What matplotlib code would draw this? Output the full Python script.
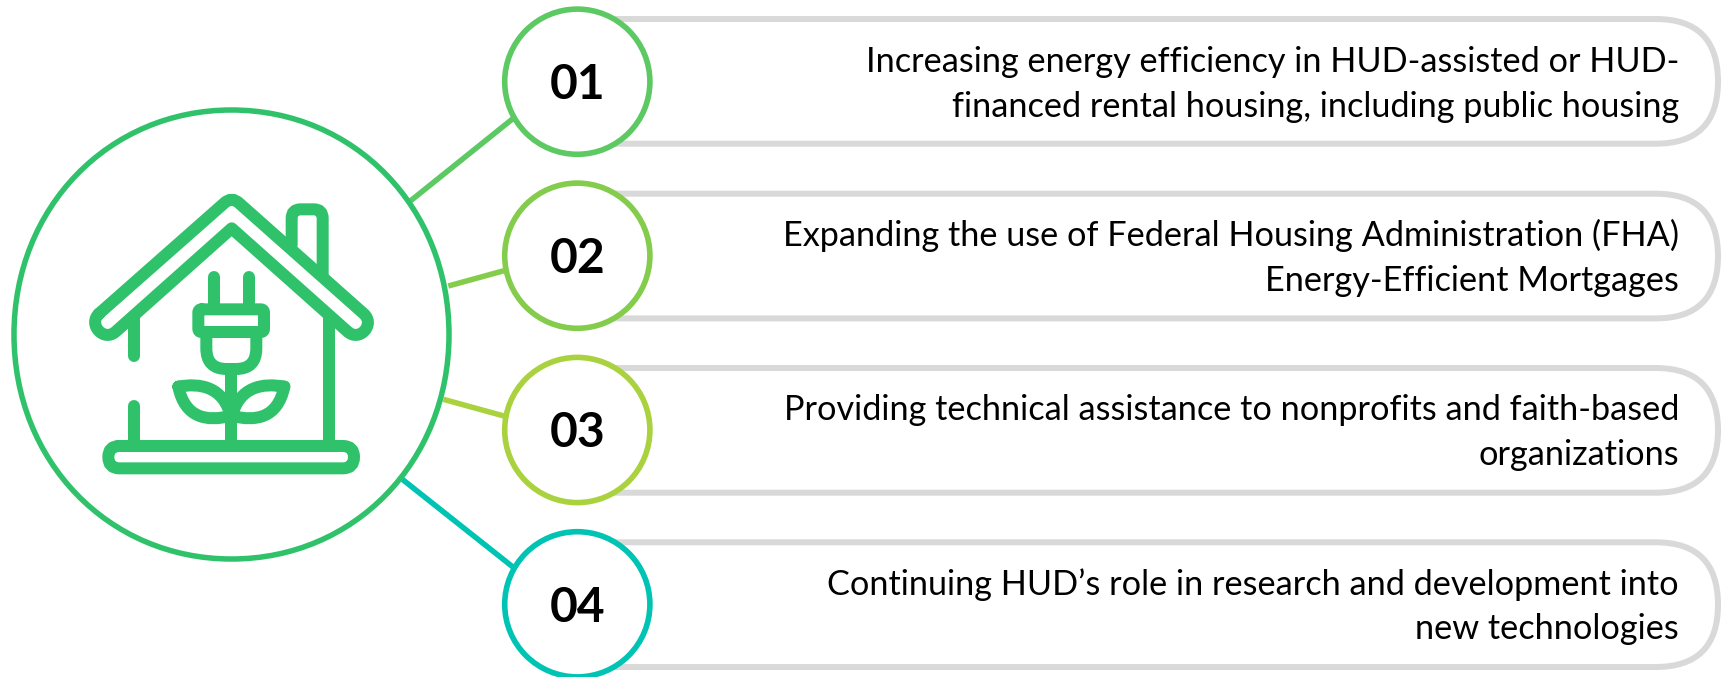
import matplotlib
matplotlib.use("Agg")
import matplotlib.pyplot as plt
from matplotlib.patches import Circle, FancyBboxPatch, PathPatch
from matplotlib.path import Path

numbers = ["01", "02", "03", "04"]
lines_1 = ["Increasing energy efficiency in HUD-assisted or HUD-",
           "Expanding the use of Federal Housing Administration (FHA)",
           "Providing technical assistance to nonprofits and faith-based",
           "Continuing HUD\u2019s role in research and development into"]
lines_2 = ["financed rental housing, including public housing",
           "Energy-Efficient Mortgages",
           "organizations",
           "new technologies"]
colors = ["#5CC963", "#84CC4C", "#A9D23E", "#00C4B3"]

GREEN = "#2FC26B"
GREY = "#D9D9D9"
PX = 0.72  # un pixel en points a dpi 100

# layout en pixels de l'image
row_y = [81.7, 255.7, 430.0, 604.3]
pill_top = [19.0, 193.7, 368.0, 542.3]
pill_h = 124.7
spokes = [((410.7, 200.7), (513.3, 118.3)),
          ((448.3, 286.0), (504.0, 270.7)),
          ((443.3, 399.3), (504.0, 416.0)),
          ((402.3, 479.3), (513.3, 567.3))]

fig = plt.figure(figsize=(17.29, 6.77), dpi=100)
ax = fig.add_axes([0, 0, 1, 1])
ax.set_xlim(0, 1729)
ax.set_ylim(677, 0)
ax.axis("off")

# pilules grises
for top in pill_top:
    ax.add_patch(FancyBboxPatch((520, top), 1198, pill_h,
                                boxstyle="round,pad=0,rounding_size=62.3",
                                fc="white", ec=GREY, lw=6 * PX, zorder=1))

# rayons
for (p, q), c in zip(spokes, colors):
    ax.plot([p[0], q[0]], [p[1], q[1]], color=c, lw=5.5 * PX, zorder=2,
            solid_capstyle="butt")

# grand cercle : pas tout a fait rond dans l'original (plus haut que large)
cx, cy, rx, ry = 231.5, 334.5, 217.5, 224.5
kx, ky = 0.565 * rx, 0.565 * ry
blob = Path([(cx - rx, cy), (cx - rx, cy - ky), (cx - kx, cy - ry), (cx, cy - ry),
             (cx + kx, cy - ry), (cx + rx, cy - ky), (cx + rx, cy),
             (cx + rx, cy + ky), (cx + kx, cy + ry), (cx, cy + ry),
             (cx - kx, cy + ry), (cx - rx, cy + ky), (cx - rx, cy)],
            [Path.MOVETO] + [Path.CURVE4] * 12)
ax.add_patch(PathPatch(blob, fc="white", ec=GREEN, lw=5.5 * PX, zorder=3))

# cercles numerotes + textes
for i in range(4):
    y = row_y[i]
    ax.add_patch(Circle((577.3, y), 72.6, fc="white", ec=colors[i], lw=5.6 * PX, zorder=3))
    ax.text(577.3, y + 17.3, numbers[i], ha="center", va="baseline", family="Lato",
            weight="bold", fontsize=34.5, color="black", zorder=5)
    ax.text(1679, y - 9.6, lines_1[i], ha="right", va="baseline", family="Lato",
            fontsize=24.7, color="black", zorder=5)
    ax.text(1679, y + 35, lines_2[i], ha="right", va="baseline", family="Lato",
            fontsize=24.7, color="black", zorder=5)


def z(x, y):
    return (60 + x / 3, 170 + y / 3)


def stroke(verts, codes=None):
    pts = [z(*v) for v in verts]
    if codes is None:
        codes = [Path.MOVETO] + [Path.LINETO] * (len(pts) - 1)
    ax.add_patch(PathPatch(Path(pts, codes), fc="none", ec=GREEN, lw=12 * PX,
                           capstyle="round", joinstyle="round", zorder=4))


M, L, Q, C = Path.MOVETO, Path.LINETO, Path.CURVE3, Path.CURVE4

# toit
stroke([(117, 431), (492, 100), (515, 78), (538, 100), (911, 431),
        (947, 463), (899, 517), (863, 485), (515, 175), (167, 485),
        (131, 517), (83, 463), (117, 431)],
       [M, L, Q, Q, L, C, C, C, L, L, C, C, C])
# cheminee
stroke([(695, 225), (695, 145), (695, 118), (722, 118), (762, 118), (788, 118),
        (788, 145), (788, 318)],
       [M, L, Q, Q, L, Q, Q, L])
# murs
stroke([(221, 445), (221, 557)])
stroke([(221, 707), (221, 825)])
stroke([(807, 445), (807, 825)])
# socle
stroke([(178, 828), (849, 828), (882, 828), (882, 861), (882, 895), (849, 895),
        (178, 895), (145, 895), (145, 861), (145, 828), (178, 828)],
       [M, L, Q, Q, Q, Q, L, Q, Q, Q, Q])
# prise
stroke([(461, 320), (461, 415)])
stroke([(566, 320), (566, 415)])
stroke([(425, 418), (602, 418), (612, 418), (612, 428), (612, 476), (612, 486),
        (602, 486), (425, 486), (415, 486), (415, 476), (415, 428), (415, 418), (425, 418)],
       [M, L, Q, Q, L, Q, Q, L, Q, Q, L, Q, Q])
stroke([(439, 486), (439, 535), (439, 597), (500, 597), (528, 597), (589, 597),
        (589, 535), (589, 486)],
       [M, L, Q, Q, L, Q, Q, L])
stroke([(514, 597), (514, 825)])
# feuilles
for s in (0, 1):
    fx = (lambda x: 1028 - x) if s else (lambda x: x)
    stroke([(fx(355), 650), (fx(420), 638), (fx(490), 650), (fx(512), 738),
            (fx(440), 755), (fx(375), 745), (fx(355), 650)],
           [M, C, C, C, C, C, C])

fig.savefig("out.png", dpi=100, facecolor="white")
